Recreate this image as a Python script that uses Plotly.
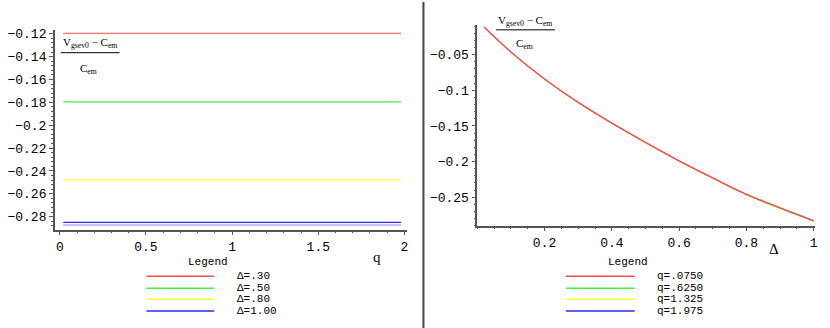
import plotly.graph_objects as go

W, H = 830, 328

# left panel: constant curves versus q
q_points = [0.02, 0.5, 1.0, 1.5, 1.98]
delta_30 = [-0.1195, -0.1195, -0.1195, -0.1195, -0.1195]
delta_50 = [-0.1795, -0.1795, -0.1795, -0.1795, -0.1795]
delta_80 = [-0.2478, -0.2478, -0.2478, -0.2478, -0.2478]
delta_100 = [-0.2849, -0.2849, -0.2849, -0.2849, -0.2849]
delta_100_b = [-0.2873, -0.2873, -0.2873, -0.2873, -0.2873]
left_names = ["Δ=.30", "Δ=.50", "Δ=.80", "Δ=1.00"]

# right panel: curves versus delta
delta_points = [0.02, 0.1, 0.2, 0.3, 0.4, 0.5, 0.6, 0.7, 0.8, 0.9, 1.0]
q_0750 = [-0.011, -0.046, -0.084, -0.117, -0.146, -0.173, -0.199, -0.223, -0.246, -0.265, -0.283]
q_6250 = [-0.011, -0.046, -0.084, -0.117, -0.146, -0.173, -0.1995, -0.2236, -0.2468, -0.2660, -0.2840]
q_1325 = [-0.011, -0.046, -0.084, -0.117, -0.146, -0.173, -0.1993, -0.2234, -0.2465, -0.2656, -0.2836]
q_1975 = [-0.011, -0.046, -0.084, -0.117, -0.146, -0.173, -0.199, -0.223, -0.246, -0.265, -0.283]
right_names = ["q=.0750", "q=.6250", "q=1.325", "q=1.975"]

colors = ["#ff4a4a", "#44ee44", "#ffff33", "#2b2bee"]

left_y_ticks = [-0.12, -0.14, -0.16, -0.18, -0.2, -0.22, -0.24, -0.26, -0.28]
left_y_text = ["−0.12", "−0.14", "−0.16", "−0.18", "−0.2", "−0.22", "−0.24", "−0.26", "−0.28"]
left_x_ticks = [0, 0.5, 1, 1.5, 2]
left_x_text = ["0", "0.5", "1", "1.5", "2"]
right_y_ticks = [-0.05, -0.1, -0.15, -0.2, -0.25]
right_y_text = ["−0.05", "−0.1", "−0.15", "−0.2", "−0.25"]
right_x_ticks = [0.2, 0.4, 0.6, 0.8, 1]
right_x_text = ["0.2", "0.4", "0.6", "0.8", "1"]


def px(x):
    return x / W


def py(y):
    return 1 - y / H


MONO = "Liberation Mono, Courier New, monospace"
SERIF = "Liberation Serif, Times New Roman, serif"

fig = go.Figure()

left_series = [delta_30, delta_50, delta_80, delta_100]
for name, vals, col in zip(left_names, left_series, colors):
    fig.add_trace(go.Scatter(x=q_points, y=vals, mode="lines", name=name,
                             line=dict(color=col, width=1.2), xaxis="x", yaxis="y"))
fig.add_trace(go.Scatter(x=q_points, y=delta_100_b, mode="lines", showlegend=False,
                         line=dict(color=colors[3], width=1), opacity=0.55, xaxis="x", yaxis="y"))

# red (q=.0750) drawn last so it sits on top of the others
right_series = [q_1975, q_1325, q_6250, q_0750]
right_widths = [0.8, 0.9, 0.9, 1.4]
for name, vals, col, w in zip(right_names[::-1], right_series, colors[::-1], right_widths):
    fig.add_trace(go.Scatter(x=delta_points, y=vals, mode="lines", name=name,
                             line=dict(color=col, width=w, shape="spline"), xaxis="x2", yaxis="y2"))

axis_common = dict(
    showgrid=False, zeroline=False, showline=True, linecolor="#555555", linewidth=1.5,
    ticks="outside", ticklen=4, tickwidth=1, tickcolor="#555555",
    tickfont=dict(family=MONO, size=13, color="black"), tickmode="array",
)

fig.update_layout(
    width=W, height=H,
    margin=dict(l=0, r=0, t=0, b=0),
    paper_bgcolor="white", plot_bgcolor="white",
    showlegend=False,
    xaxis=dict(domain=[px(55), px(408)], range=[-0.029, 2.012], anchor="y",
               tickvals=left_x_ticks, ticktext=left_x_text,
               minor=dict(dtick=0.1, ticks="outside", ticklen=2, tickcolor="#555555"),
               **axis_common),
    yaxis=dict(domain=[py(229), py(28)], range=[-0.2913, -0.1165], anchor="x",
               tickvals=left_y_ticks, ticktext=left_y_text,
               minor=dict(dtick=0.004, ticks="outside", ticklen=2, tickcolor="#555555"),
               **axis_common),
    xaxis2=dict(domain=[px(479), px(818)], range=[0, 1.004], anchor="y2",
                tickvals=right_x_ticks, ticktext=right_x_text,
                minor=dict(dtick=0.05, ticks="outside", ticklen=2, tickcolor="#555555"),
                **axis_common),
    yaxis2=dict(domain=[py(225), py(23)], range=[-0.290, -0.008], anchor="x2",
                tickvals=right_y_ticks, ticktext=right_y_text,
                minor=dict(dtick=0.01, ticks="outside", ticklen=2, tickcolor="#555555"),
                **axis_common),
)

shapes = []
annotations = []


def label(text, x, y, font, xanchor="center"):
    annotations.append(dict(text=text, x=px(x), y=py(y), xref="paper", yref="paper", showarrow=False,
                            xanchor=xanchor, yanchor="middle", font=font))


def hline(x0, x1, y, color, width):
    shapes.append(dict(type="line", xref="paper", yref="paper", x0=px(x0), x1=px(x1), y0=py(y), y1=py(y),
                       line=dict(color=color, width=width)))


# panel separator
shapes.append(dict(type="line", xref="paper", yref="paper", x0=px(425), x1=px(425), y0=0, y1=1,
                   line=dict(color="#444444", width=2)))

# axis labels
label("q", 378, 257, dict(family=SERIF, size=15, color="black"))
label("Δ", 777, 249, dict(family=SERIF, size=15, color="black"))

# fraction labels
num = "V<sub>gsev0</sub> − C<sub>em</sub>"
den = "C<sub>em</sub>"
for cx, y_num, y_bar, y_den, x0, x1 in [(90, 41, 51, 67, 61, 120), (527, 19, 28, 42, 498, 557)]:
    label(num, cx, y_num, dict(family=SERIF, size=11, color="black"))
    label(den, cx - 1, y_den, dict(family=SERIF, size=11, color="black"))
    hline(x0, x1, y_bar, "black", 1)

# hand-drawn legends (Maple style)
row_y = [276, 288, 299, 311]
for title_x, lx0, lx1, tx, names in [(209, 147, 215, 236, left_names), (630, 568, 637, 657, right_names)]:
    label("Legend", title_x, 262, dict(family=MONO, size=11, color="black"))
    for ry, name, col in zip(row_y, names, colors):
        hline(lx0, lx1, ry, col, 1.5)
        label(name, tx, ry, dict(family=MONO, size=11, color="black"), xanchor="left")

fig.update_layout(shapes=shapes, annotations=annotations)

fig.write_html("out.html", config={"displayModeBar": False},
               post_script="document.body.style.margin='0';")
